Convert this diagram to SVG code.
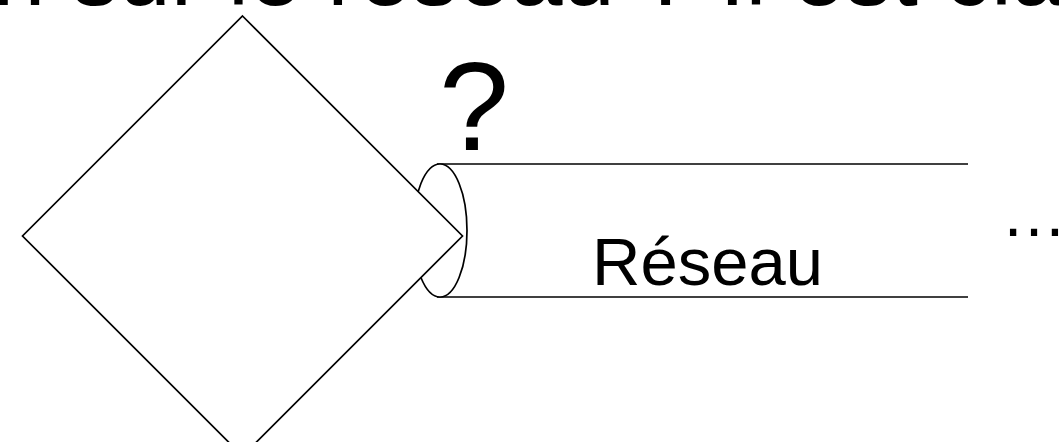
<svg xmlns="http://www.w3.org/2000/svg" width="1059" height="442" viewBox="0 0 1059 442">
  <style>
    .shape { fill: #ffffff; stroke: #000000; stroke-width: 1.7; }
    .line { fill: none; stroke: #000000; stroke-width: 1.7; }
    .txt { font-family: "Liberation Sans", Arial, sans-serif; fill: #000000; }
  </style>
  <rect x="0" y="0" width="1059" height="442" fill="#ffffff"/>

  <!-- title line, running off the top edge -->
  <text class="txt" x="-7" y="5" font-size="94">n sur le réseau ? Il est cla</text>

  <!-- network pipe -->
  <g id="reseau">
    <line class="line" x1="437" y1="164" x2="968" y2="164"/>
    <line class="line" x1="437" y1="297" x2="968" y2="297"/>
    <ellipse class="shape" cx="440" cy="230.5" rx="27" ry="66.5"/>
    <text class="txt" x="592" y="285" font-size="67">Réseau</text>
  </g>

  <!-- host -->
  <g id="machine">
    <polygon class="shape" points="242.5,16 462.5,236 242.5,456 22.5,236"/>
  </g>

  <g id="question">
    <text class="txt" x="439" y="150" font-size="126">?</text>
  </g>

  <g id="suite">
    <text class="txt" x="1001" y="236" font-size="66">…</text>
  </g>
</svg>
